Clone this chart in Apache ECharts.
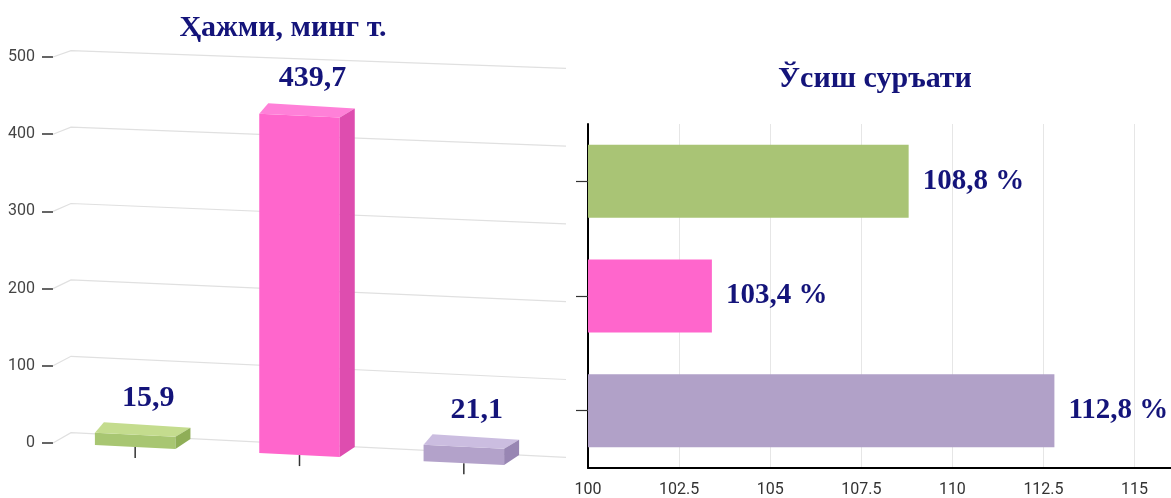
<!DOCTYPE html>
<html>
<head>
<meta charset="utf-8">
<script src="https://cdn.jsdelivr.net/npm/echarts@6/dist/echarts.min.js"></script>
<style>
  html, body { margin: 0; padding: 0; background: #ffffff; }
  #chart { width: 1171px; height: 498px; }
</style>
</head>
<body>
<div id="chart"></div>
<script>
// ---- data ----
const categories = ['1', '2', '3'];
const volumeValues = [15.9, 439.7, 21.1];      // Ҳажми, минг т.
const growthValues = [108.8, 103.4, 112.8];    // Ўсиш суръати, %
const volumeTicks = [0, 100, 200, 300, 400, 500];
const titleLeft = 'Ҳажми, минг т.';
const titleRight = 'Ўсиш суръати';

// ---- styles ----
const NAVY = '#14147a';
const SERIF = '"Liberation Serif", "Times New Roman", serif';
const FRONT = ['#a8c672', '#ff66cc', '#b3a2ca'];
const TOP = ['#c4dc8e', '#ff80d8', '#cbbde0'];
const SIDE = ['#8fae57', '#de4daf', '#9886b3'];
const BAR_RIGHT = ['#a9c475', '#ff66cc', '#b1a1c8'];
const SLOPE = 0.049;

const comma = v => String(v).replace('.', ',');

const chart = echarts.init(document.getElementById('chart'), null, { renderer: 'canvas' });

function gridRender(params, api) {
  const cs = params.coordSys;
  const v = api.value(1);
  const y = api.coord([0, v])[1];
  const t = (cs.y + cs.height - y) / cs.height;
  const x0 = cs.x;
  const startOff = -10.3 + 4 * t;
  const endOff = 14.3 - 3 * t;
  return {
    type: 'polyline',
    shape: { points: [[x0, y], [x0 + 18, y + startOff], [x0 + 513, y + endOff]] },
    style: { stroke: '#e0e0e0', lineWidth: 1.2, fill: null },
    silent: true
  };
}

function barRender(params, api) {
  const cs = params.coordSys;
  const i = api.value(0);
  const v = api.value(1);
  const top = api.coord([i, v]);
  const base = api.coord([i, 0]);
  const bw = api.size([1, 0])[0] * 0.49;
  const cx = top[0];
  const xl = cx - bw / 2, xr = cx + bw / 2;
  const f = (x, y) => y + SLOPE * (x - cs.x);
  const flt = [xl, f(xl, top[1])], frt = [xr, f(xr, top[1])];
  const frb = [xr, f(xr, base[1])], flb = [xl, f(xl, base[1])];
  const blt = [flt[0] + 9, flt[1] - 10.5], brt = [frt[0] + 15, frt[1] - 9];
  const brb = [frb[0] + 15, frb[1] - 10];
  const by = f(cx, base[1]);
  return {
    type: 'group',
    children: [
      { type: 'line', shape: { x1: cx, y1: by, x2: cx, y2: by + 11 }, style: { stroke: '#333', lineWidth: 1.5 } },
      { type: 'polygon', shape: { points: [flt, frt, frb, flb] }, style: { fill: FRONT[i] } },
      { type: 'polygon', shape: { points: [flt, frt, brt, blt] }, style: { fill: TOP[i] } },
      { type: 'polygon', shape: { points: [frt, brt, brb, frb] }, style: { fill: SIDE[i] } },
      { type: 'text', x: cx + 13, y: f(cx, top[1]) - 37,
        style: { text: comma(v), fill: NAVY, font: 'bold 30px ' + SERIF,
                 textAlign: 'center', textVerticalAlign: 'middle' } }
    ]
  };
}

const option = {
  animation: false,
  backgroundColor: '#ffffff',
  title: [
    { text: titleLeft, left: 283, top: 13, textAlign: 'center', padding: 0,
      textStyle: { color: NAVY, fontSize: 30, fontWeight: 'bold', fontFamily: SERIF } },
    { text: titleRight, left: 875, top: 64, textAlign: 'center', padding: 0,
      textStyle: { color: NAVY, fontSize: 30, fontWeight: 'bold', fontFamily: SERIF } }
  ],
  grid: [
    { left: 53, right: 625, top: 57, bottom: 55 },
    { left: 588, right: 0, top: 124, bottom: 27 }
  ],
  xAxis: [
    { type: 'category', gridIndex: 0, data: categories, show: false },
    { type: 'value', gridIndex: 1, min: 100, max: 116, interval: 2.5,
      axisLine: { show: true, lineStyle: { color: '#000', width: 2 } },
      axisTick: { show: false },
      axisLabel: { color: '#333', fontSize: 16, fontFamily: 'Roboto, sans-serif', margin: 14, showMaxLabel: false,
                   formatter: v => (v > 115 ? '' : String(v)) },
      splitLine: { show: true, lineStyle: { color: '#e6e6e6', width: 1 } } }
  ],
  yAxis: [
    { type: 'value', gridIndex: 0, min: 0, max: 500, interval: 100,
      axisLine: { show: false },
      axisTick: { show: true, length: 11, lineStyle: { color: '#333', width: 1.5 } },
      axisLabel: { color: '#444', fontSize: 16, fontFamily: 'Roboto, sans-serif', margin: 18 },
      splitLine: { show: false } },
    { type: 'category', gridIndex: 1, data: categories, inverse: true,
      axisLine: { show: true, lineStyle: { color: '#000', width: 2 } },
      axisTick: { show: true, length: 12, alignWithLabel: true, lineStyle: { color: '#333', width: 1.2 } },
      axisLabel: { show: false } }
  ],
  series: [
    { type: 'custom', xAxisIndex: 0, yAxisIndex: 0, z: 1, silent: true,
      data: volumeTicks.map(v => [0, v]), renderItem: gridRender },
    { type: 'custom', xAxisIndex: 0, yAxisIndex: 0, z: 3,
      data: volumeValues.map((v, i) => [i, v]), renderItem: barRender },
    { type: 'bar', xAxisIndex: 1, yAxisIndex: 1, barWidth: 73,
      data: growthValues.map((v, i) => ({ value: v, itemStyle: { color: BAR_RIGHT[i] } })),
      label: { show: true, position: 'right', distance: 14, color: NAVY,
               fontSize: 29, fontWeight: 'bold', fontFamily: SERIF,
               formatter: p => comma(p.value) + ' %' } }
  ]
};
chart.setOption(option);
</script>
</body>
</html>
